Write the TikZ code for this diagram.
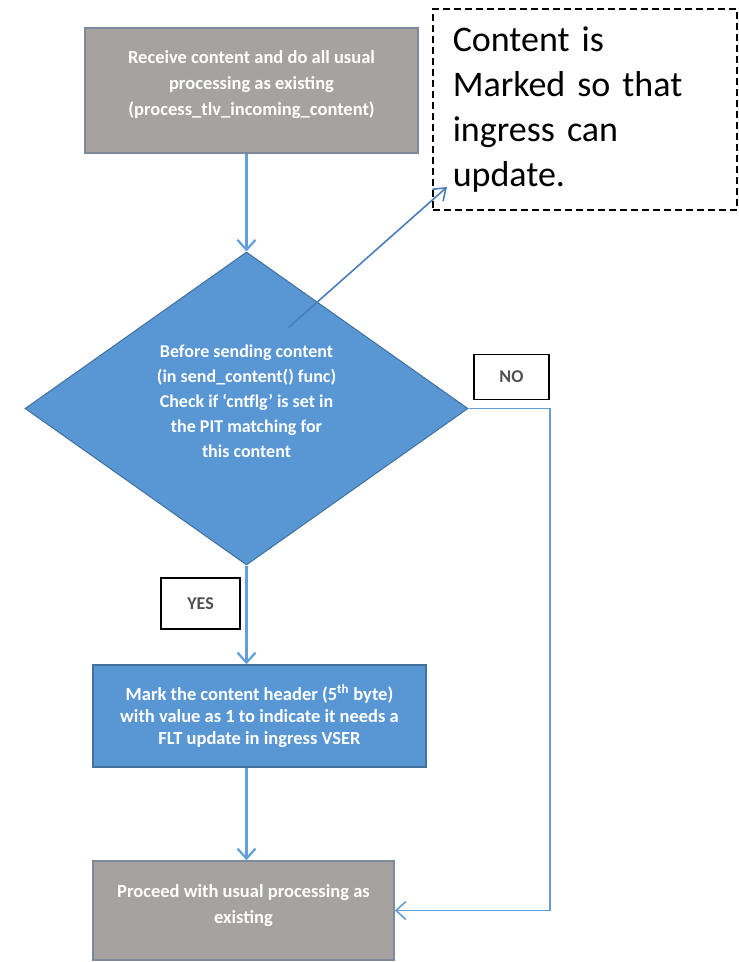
\documentclass[tikz,border=0pt]{standalone}
\usepackage{fontspec}
\setmainfont{Carlito}
\usetikzlibrary{shapes.geometric,arrows.meta}

\definecolor{boxgray}{RGB}{166,162,160}
\definecolor{boxgrayedge}{RGB}{125,138,158}
\definecolor{flowblue}{RGB}{88,150,212}
\definecolor{flowblueedge}{RGB}{65,113,156}
\definecolor{linkblue}{RGB}{98,158,216}
\definecolor{pointerblue}{RGB}{74,126,187}
\definecolor{tagtext}{RGB}{80,80,80}

\tikzset{
  flowtext/.style={text=white, font=\fontsize{18.5}{26}\selectfont\bfseries, align=center, inner sep=0pt},
  procgray/.style={flowtext, rectangle, draw=boxgrayedge, line width=1.5pt, fill=boxgray},
  procblue/.style={flowtext, rectangle, draw=flowblueedge, line width=1.5pt, fill=flowblue},
  decision/.style={flowtext, diamond, draw=flowblueedge, line width=1pt, fill=flowblue,
    aspect=1.415, font=\fontsize{18}{25}\selectfont\bfseries},
  tagbox/.style={rectangle, draw=black, line width=1.5pt, fill=white, text=tagtext,
    font=\fontsize{18}{20}\selectfont\bfseries, inner sep=0pt},
  notebox/.style={rectangle, draw=black, line width=1.5pt, dash pattern=on 7pt off 4pt,
    fill=white, align=left, font=\fontsize{36}{45}\selectfont, inner xsep=20pt, inner ysep=0pt},
  link/.style={draw=linkblue, line width=2.2pt, -{Straight Barb[length=10pt,width=18pt]}},
  sidelink/.style={draw=linkblue, line width=1.6pt, -{Straight Barb[length=10pt,width=18pt]}},
  pointer/.style={draw=pointerblue, line width=1.6pt, -{Straight Barb[length=11pt,width=16pt]}},
}

\begin{document}
\begin{tikzpicture}[x=1pt,y=-1pt]
  \useasboundingbox (0,0) rectangle (739,962);

  % annotation box
  \node[notebox, anchor=north west, minimum width=304pt, minimum height=201pt, text width=264pt]
    (note) at (432,8) {Content is\\Marked so that\\ingress can\\update.};

  % process steps
  \node[procgray, minimum width=333pt, minimum height=125pt, text depth=15pt] (recv) at (251.5,90.5)
    {Receive content and do all usual\\processing as existing\\(process\_tlv\_incoming\_content)};

  \node[decision, minimum width=443pt, minimum height=313pt, text depth=15pt] (check) at (246.5,408.5)
    {Before sending content\\(in send\_content() func)\\Check if `cntflg' is set in\\the PIT matching for\\this content};

  \node[procblue, minimum width=333pt, minimum height=102pt, font=\fontsize{18.5}{22}\selectfont\bfseries]
    (mark) at (259.5,716)
    {Mark the content header (5\textsuperscript{th} byte)\\with value as 1 to indicate it needs a\\FLT update in ingress VSER};

  \node[procgray, minimum width=301pt, minimum height=99pt, text depth=14pt] (done) at (243.5,910.5)
    {Proceed with usual processing as\\existing};

  % branch labels
  \node[tagbox, minimum width=79pt, minimum height=51pt] (yes) at (200.5,603.5) {YES};
  \node[tagbox, minimum width=75pt, minimum height=45pt] (no) at (511.5,377) {NO};

  % connectors
  \draw[link] (check.north |- recv.south) -- (check.north);
  \draw[link] (check.south) -- (check.south |- mark.north);
  \draw[link] (check.south |- mark.south) -- (check.south |- done.north);
  \draw[sidelink] (check.east) -- (check.east -| no.east) |- (done.east);

  % pointer to the annotation
  \coordinate (ptrfrom) at (288,328);
  \coordinate (ptrto) at (447,187);
  \draw[pointer] (ptrfrom) -- (ptrto);
\end{tikzpicture}
\end{document}
